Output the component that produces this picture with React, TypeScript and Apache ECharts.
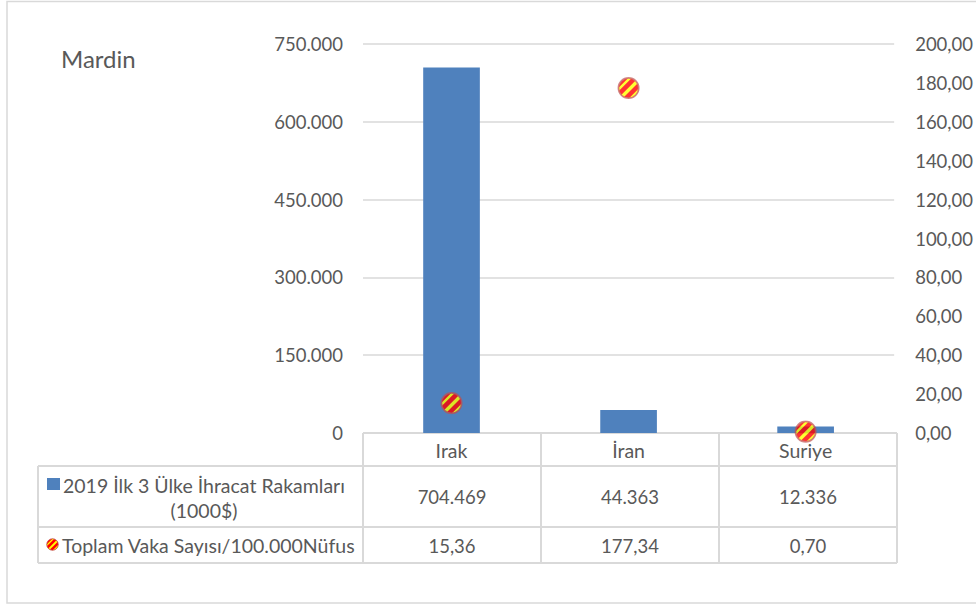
import React, { useEffect, useRef } from "react";
import * as echarts from "echarts";

const categories = ["Irak", "İran", "Suriye"];
const exportValues = [704469, 44363, 12336];
const caseValues = [15.36, 177.34, 0.7];
const seriesNames = ["2019 İlk 3 Ülke İhracat Rakamları (1000$)", "Toplam Vaka Sayısı/100.000Nüfus"];
const legendLine1 = "2019 İlk 3 Ülke İhracat Rakamları";
const legendLine2 = "(1000$)";
const titleText = "Mardin";

const FONT = "Lato, 'Open Sans', sans-serif";
const GRAY = "#595959";
const LINE = "#D9D9D9";
const BLUE = "#4F81BD";
const NUM_SIZE = 18.5;
const TXT_SIZE = 19.5;

const W = 976;
const H = 605;
const PL = 363; // plot left
const PR = 897; // plot right
const PT = 44; // plot top
const PB = 433; // plot bottom

const markerSvg = (s: number) =>
  "image://data:image/svg+xml;charset=utf-8," +
  encodeURIComponent(
    `<svg xmlns='http://www.w3.org/2000/svg' width='${s}' height='${s}' viewBox='0 0 24 24'>` +
      `<defs><clipPath id='c'><circle cx='12' cy='12' r='10.6'/></clipPath></defs>` +
      `<circle cx='12' cy='12' r='10.6' fill='#FF0000'/>` +
      `<g clip-path='url(#c)' stroke='#FFFF00'>` +
      `<line x1='-1' y1='27' x2='27' y2='-1' stroke-width='3.6'/>` +
      `<line x1='-12' y1='27' x2='16' y2='-1' stroke-width='2.6'/>` +
      `<line x1='10' y1='27' x2='38' y2='-1' stroke-width='2.6'/>` +
      `</g>` +
      `<circle cx='12' cy='12' r='10.6' fill='none' stroke='#C0504D' stroke-opacity='0.85' stroke-width='1.8'/>` +
      `</svg>`
  );

const fmtThousands = (v: number) =>
  String(Math.round(v)).replace(/\B(?=(\d{3})+(?!\d))/g, ".");
const fmtDec = (v: number) => v.toFixed(2).replace(".", ",");

export default function App() {
  const ref = useRef<HTMLDivElement>(null);
  useEffect(() => {
    if (!ref.current) return;
    const chart = echarts.init(ref.current, undefined, { renderer: "svg" });
    const colW = (PR - PL) / categories.length;
    const colX = [PL, PL + colW, PL + 2 * colW, PR];
    const rowY = [PB, 466, 527, 563];
    const tableLeft = 38;

    const graphics: any[] = [];
    graphics.push({
      type: "rect",
      shape: { x: 7, y: 1.5, width: W + 20, height: 601.5 },
      style: { fill: "none", stroke: LINE, lineWidth: 1.5 },
      silent: true,
    });
    graphics.push({
      type: "text",
      x: 61,
      y: 58,
      style: { text: titleText, fill: GRAY, fontSize: 24, fontFamily: FONT, align: "left", verticalAlign: "middle" },
    });
    const hl = (x1: number, x2: number, y: number) =>
      graphics.push({
        type: "line",
        shape: { x1, y1: y, x2, y2: y },
        style: { stroke: LINE, lineWidth: 2 },
        silent: true,
      });
    const vl = (x: number, y1: number, y2: number) =>
      graphics.push({
        type: "line",
        shape: { x1: x, y1, x2: x, y2 },
        style: { stroke: LINE, lineWidth: 2 },
        silent: true,
      });
    hl(PL, PR, rowY[0]);
    hl(tableLeft, PR, rowY[1]);
    hl(tableLeft, PR, rowY[2]);
    hl(tableLeft, PR, rowY[3]);
    vl(tableLeft, rowY[1], rowY[3]);
    colX.forEach((x) => vl(x, rowY[0], rowY[3]));

    const textStyle = (text: string, size: number, align = "center") => ({
      text,
      fill: GRAY,
      fontSize: size,
      fontFamily: FONT,
      align,
      verticalAlign: "middle",
    });
    categories.forEach((_, i) => {
      const cx = PL + colW * (i + 0.5);
      graphics.push({ type: "text", x: cx, y: (rowY[1] + rowY[2]) / 2, style: textStyle(fmtThousands(exportValues[i]), NUM_SIZE) });
      graphics.push({ type: "text", x: cx, y: (rowY[2] + rowY[3]) / 2 + 1, style: textStyle(fmtDec(caseValues[i]), NUM_SIZE) });
    });
    graphics.push({
      type: "rect",
      shape: { x: 47, y: 478, width: 13, height: 12 },
      style: { fill: BLUE },
    });
    graphics.push({ type: "text", x: 63, y: 485, style: textStyle(legendLine1, TXT_SIZE, "left") });
    graphics.push({ type: "text", x: 204, y: 510, style: textStyle(legendLine2, TXT_SIZE, "center") });
    graphics.push({
      type: "image",
      x: 46,
      y: 538,
      style: { image: markerSvg(13).replace("image://", ""), width: 13, height: 13 },
    });
    graphics.push({ type: "text", x: 62, y: 545, style: textStyle(seriesNames[1], TXT_SIZE, "left") });

    chart.setOption({
      animation: false,
      textStyle: { fontFamily: FONT },
      grid: { left: PL, right: W - PR, top: PT, bottom: H - PB, containLabel: false },
      xAxis: {
        type: "category",
        data: categories,
        boundaryGap: true,
        axisLine: { show: false },
        axisTick: { show: false },
        axisLabel: { color: GRAY, fontSize: TXT_SIZE, fontFamily: FONT, margin: 7 },
        splitLine: { show: false },
      },
      yAxis: [
        {
          type: "value",
          min: 0,
          max: 750000,
          interval: 150000,
          axisLine: { show: false },
          axisTick: { show: false },
          axisLabel: { color: GRAY, fontSize: NUM_SIZE, fontFamily: FONT, margin: 20, formatter: (v: number) => fmtThousands(v) },
          splitLine: { lineStyle: { color: LINE, width: 1.5 } },
        },
        {
          type: "value",
          min: 0,
          max: 200,
          interval: 20,
          axisLine: { show: false },
          axisTick: { show: false },
          axisLabel: { color: GRAY, fontSize: NUM_SIZE, fontFamily: FONT, margin: 21, formatter: (v: number) => fmtDec(v) },
          splitLine: { show: false },
        },
      ],
      series: [
        {
          name: seriesNames[0],
          type: "bar",
          data: exportValues,
          barWidth: "32%",
          itemStyle: { color: BLUE },
          yAxisIndex: 0,
        },
        {
          name: seriesNames[1],
          type: "scatter",
          data: caseValues,
          yAxisIndex: 1,
          symbol: markerSvg(24),
          symbolSize: 23,
          z: 5,
        },
      ],
      graphic: graphics,
    });
    return () => chart.dispose();
  }, []);
  return (
    <div
      ref={ref}
      style={{ position: "absolute", left: 0, top: 0, width: W, height: H, background: "#fff" }}
    />
  );
}
